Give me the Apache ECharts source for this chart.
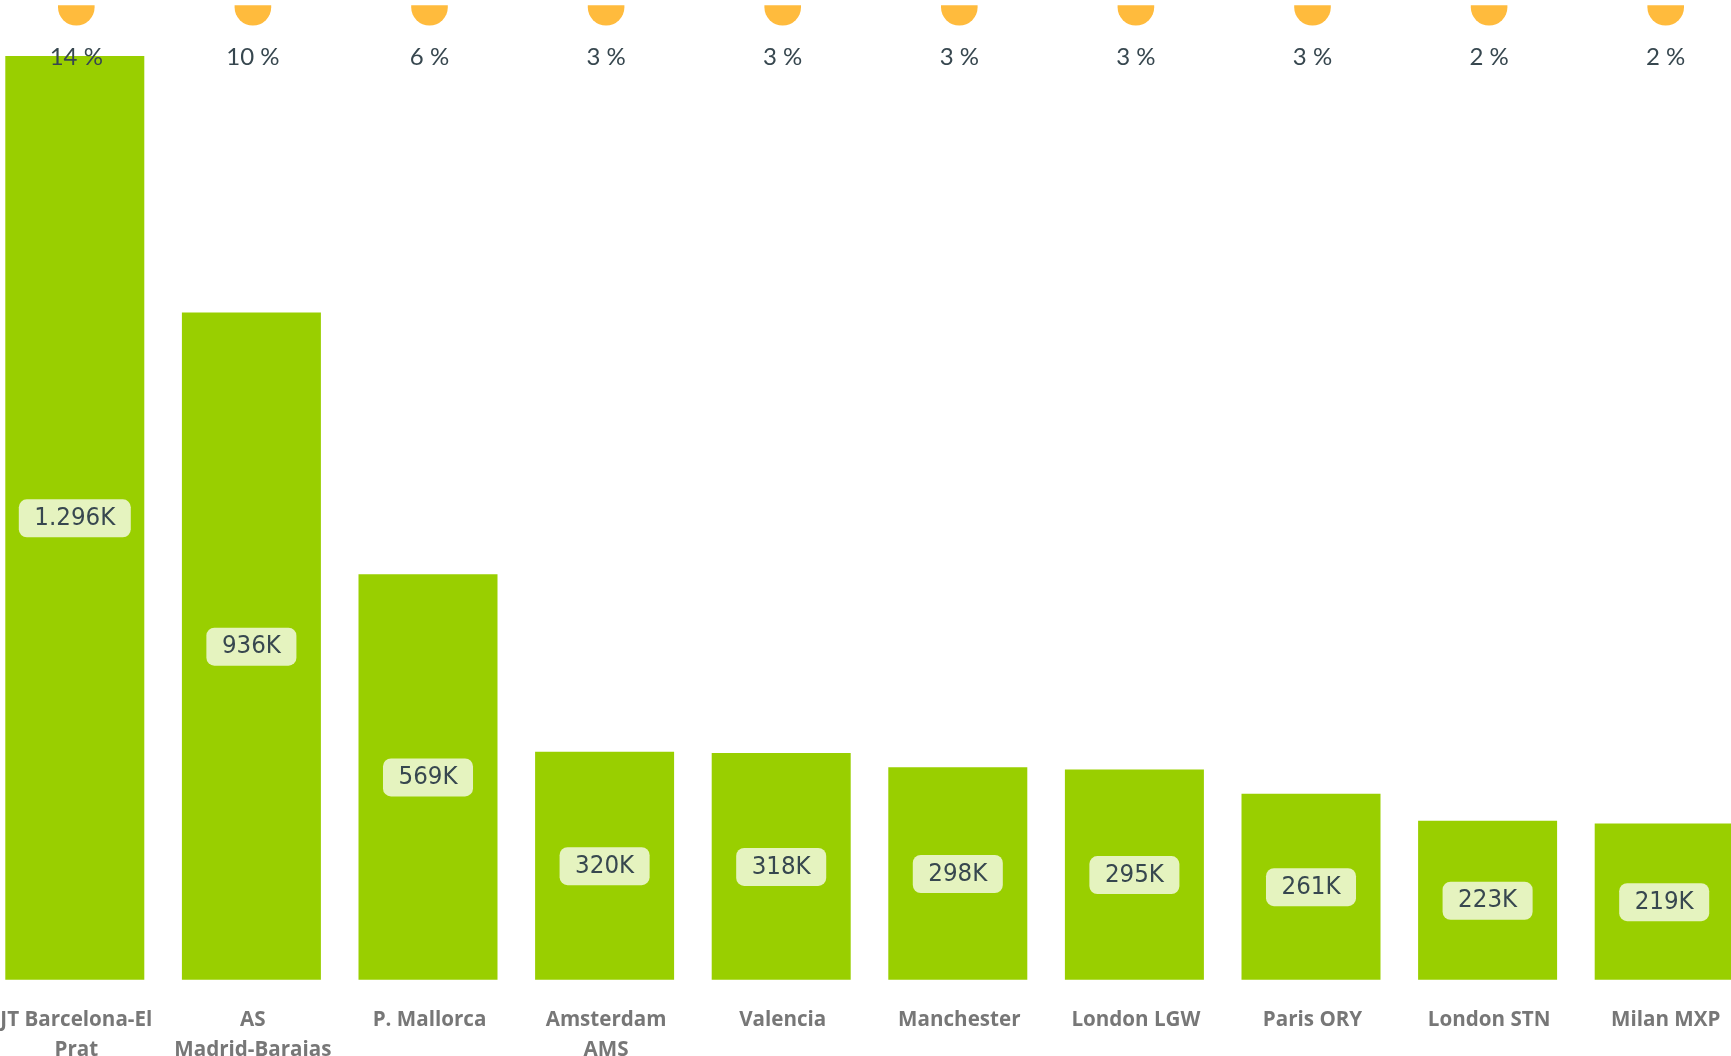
<!DOCTYPE html>
<html><head><meta charset="utf-8">
<style>html,body{margin:0;padding:0;background:#fff;overflow:hidden}#c{width:1731px;height:1056px}</style>
<script src="https://cdn.jsdelivr.net/npm/echarts@6/dist/echarts.min.js"></script>
</head><body><div id="c"></div>
<script>
const categories = ["JT Barcelona-El\nPrat","AS\nMadrid-Barajas","P. Mallorca","Amsterdam\nAMS","Valencia","Manchester","London LGW","Paris ORY","London STN","Milan MXP"];
const passengersK = [1296,936,569,320,318,298,295,261,223,219];
const valueLabels = ["1.296K","936K","569K","320K","318K","298K","295K","261K","223K","219K"];
const sharePct = [14,10,6,3,3,3,3,3,2,2];
const markerLevel = 1353;
const AXIS_MAX = 1367.6;
const chart = echarts.init(document.getElementById('c'), null, {renderer:'canvas', width:1731, height:1056});
const textColor = '#37474f';
const catFont = '"Open Sans","Noto Sans",sans-serif';
const valFont = '"DejaVu Sans Condensed","DejaVu Sans",sans-serif';
const pctFont = 'Lato,"Noto Sans",sans-serif';
chart.setOption({
  animation:false,
  backgroundColor:'#fff',
  grid:[
    {left:-13.5, top:5, width:1766, height:974.7, outerBoundsMode:'none', containLabel:false},
    {left:-12, top:5, width:1766, height:974.7, outerBoundsMode:'none', containLabel:false}
  ],
  xAxis:[
    {gridIndex:0,type:'category',data:categories,axisLine:{show:false},axisTick:{show:false},axisLabel:{show:false},splitLine:{show:false}},
    {gridIndex:1,type:'category',data:categories,axisLine:{show:false},axisTick:{show:false},splitLine:{show:false},
     axisLabel:{show:true,interval:0,margin:25,color:'#777',fontFamily:catFont,fontWeight:700,fontSize:20.6,lineHeight:30,hideOverlap:false}}
  ],
  yAxis:[
    {gridIndex:0,type:'value',min:0,max:AXIS_MAX,show:false},
    {gridIndex:1,type:'value',min:0,max:AXIS_MAX,show:false}
  ],
  series:[
    {type:'bar',xAxisIndex:0,yAxisIndex:0,data:passengersK,barWidth:139,itemStyle:{color:'#99cf00'},
     label:{show:true,position:'inside',offset:[0,0.5],formatter:p=>valueLabels[p.dataIndex],color:textColor,fontFamily:valFont,fontSize:25.6,
       backgroundColor:'rgba(255,255,255,0.75)',borderRadius:8,padding:[4,15.5,4,15.5],lineHeight:30}},
    {type:'scatter',xAxisIndex:1,yAxisIndex:1,data:sharePct.map(()=>markerLevel),
     symbol:'path://M0,0 L36.6,0 L36.6,2 A18.3,18.3 0 0 1 0,2 Z',symbolSize:[36.6,20.3],symbolKeepAspect:false,
     itemStyle:{color:'#ffbb3d',opacity:1},z:5,
     label:{show:true,position:'inside',offset:[0,41.5],formatter:p=>sharePct[p.dataIndex]+' %',color:textColor,fontFamily:pctFont,fontSize:24}}
  ]
});
</script></body></html>
